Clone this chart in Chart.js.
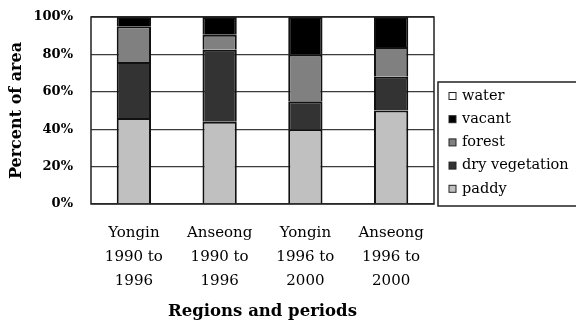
<!DOCTYPE html>
<html>
<head>
<meta charset="utf-8">
<script src="https://cdn.jsdelivr.net/npm/chart.js@4"></script>
<style>
  html, body { margin: 0; padding: 0; background: #fff; }
  #wrap { width: 576px; height: 324px; }
</style>
</head>
<body>
<div id="wrap"><canvas id="landChart" width="576" height="324"></canvas></div>
<script>
// categories (multi-line labels)
const categories = [
    ['Yongin', '1990 to', '1996'],
    ['Anseong', '1990 to', '1996'],
    ['Yongin', '1996 to', '2000'],
    ['Anseong', '1996 to', '2000']
];
// series values (percent of area), bottom to top
const paddy = [46, 44, 40, 50];
const dryVegetation = [30, 38.5, 15, 18];
const forest = [19, 8, 25, 16];
const vacant = [5, 9.5, 20, 16];
const water = [0, 0, 0, 0];
const yTicks = [0, 20, 40, 60, 80, 100];

const serif = "'DejaVu Serif', 'Liberation Serif', serif";

// cadre noir autour de la zone du graphique
const frameBox = {
    id: 'frameBox',
    afterDraw(chart) {
        const a = chart.chartArea;
        const ctx = chart.ctx;
        ctx.save();
        ctx.strokeStyle = '#222';
        ctx.lineWidth = 1.5;
        ctx.strokeRect(a.left, a.top, a.right - a.left, a.bottom - a.top);
        ctx.restore();
    }
};

// légende encadrée dessinée à droite
const boxedLegend = {
    id: 'boxedLegend',
    afterDraw(chart) {
        const ctx = chart.ctx;
        const sets = chart.data.datasets.slice().reverse();
        const x = 438, y = 82, w = 150, h = 124;
        ctx.save();
        ctx.strokeStyle = '#222';
        ctx.lineWidth = 1.5;
        ctx.strokeRect(x, y, w, h);
        ctx.font = '14.5px ' + serif;
        ctx.textBaseline = 'middle';
        sets.forEach((ds, i) => {
            const cy = 96 + i * 23.2;
            ctx.fillStyle = ds.backgroundColor;
            ctx.fillRect(449, cy - 3.5, 7, 7);
            ctx.strokeStyle = '#222';
            ctx.lineWidth = 1;
            ctx.strokeRect(449, cy - 3.5, 7, 7);
            ctx.fillStyle = '#000';
            ctx.fillText(ds.label, 462, cy);
        });
        ctx.restore();
    }
};

function makeSet(label, data, color) {
    return {
        label: label,
        data: data,
        backgroundColor: color,
        borderColor: '#111111',
        borderWidth: 2,
        barPercentage: 1,
        categoryPercentage: 0.4
    };
}

document.addEventListener('DOMContentLoaded', function() {
    const ctx = document.getElementById('landChart').getContext('2d');
    new Chart(ctx, {
        type: 'bar',
        data: {
            labels: categories,
            datasets: [
                makeSet('paddy', paddy, '#c0c0c0'),
                makeSet('dry vegetation', dryVegetation, '#333333'),
                makeSet('forest', forest, '#808080'),
                makeSet('vacant', vacant, '#000000'),
                makeSet('water', water, '#ffffff')
            ]
        },
        options: {
            responsive: false,
            animation: false,
            layout: { padding: { top: 17, right: 142, left: 4, bottom: 0 } },
            plugins: {
                legend: { display: false },
                tooltip: { enabled: false }
            },
            scales: {
                x: {
                    stacked: true,
                    grid: { display: false },
                    border: { display: false },
                    afterFit(axis) { axis.height = 120; },
                    ticks: {
                        color: '#000',
                        padding: 9,
                        maxRotation: 0,
                        font: { family: serif, size: 15, lineHeight: 1.6 }
                    },
                    title: {
                        display: true,
                        text: 'Regions and periods',
                        color: '#000',
                        padding: { top: 0, bottom: 2 },
                        font: { family: serif, size: 16.5, weight: 'bold' }
                    }
                },
                y: {
                    stacked: true,
                    min: 0,
                    max: 100,
                    afterBuildTicks(axis) {
                        axis.ticks = yTicks.map(v => ({ value: v }));
                    },
                    afterFit(axis) {
                        axis.width = 87;
                        axis.paddingTop = 8;
                        axis.paddingBottom = 0;
                    },
                    grid: { color: '#3a3a3a', lineWidth: 1.2, drawTicks: false },
                    border: { display: false },
                    ticks: {
                        color: '#000',
                        padding: 18,
                        font: { family: serif, size: 13, weight: 'bold' },
                        callback: v => v + '%'
                    },
                    title: {
                        display: true,
                        text: 'Percent of area',
                        color: '#000',
                        padding: { top: 3, bottom: 0 },
                        font: { family: serif, size: 16, weight: 'bold' }
                    }
                }
            }
        },
        plugins: [frameBox, boxedLegend]
    });
});
</script>
</body>
</html>
